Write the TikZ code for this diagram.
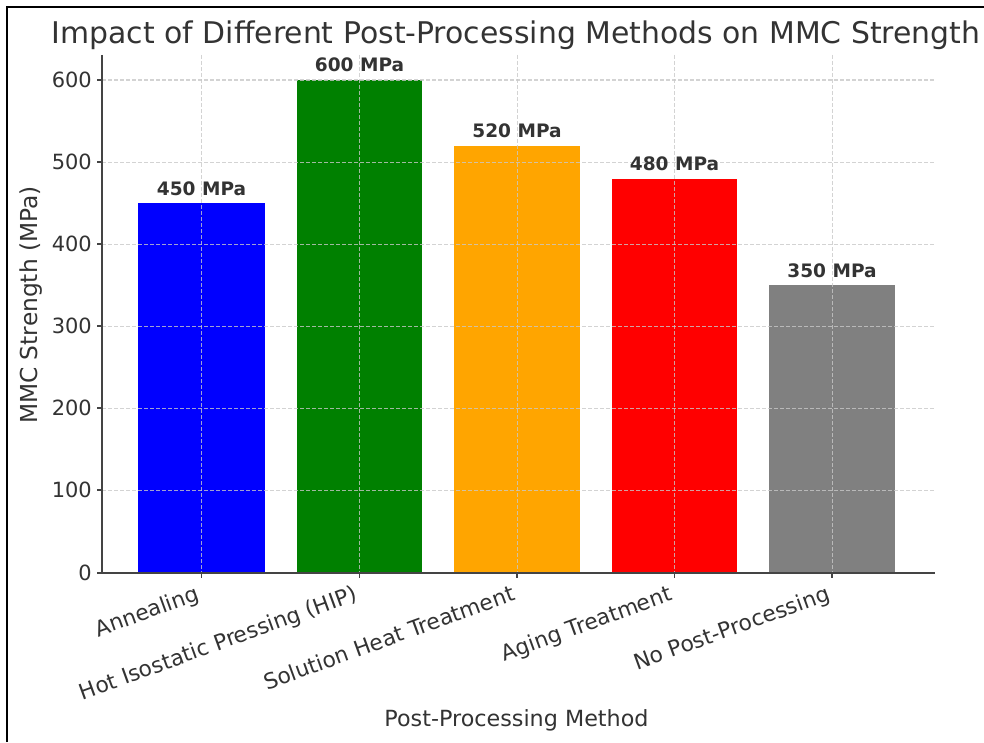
\documentclass[tikz,border=0pt]{standalone}
\usepackage{fontspec}
\setmainfont{DejaVu Sans}
\definecolor{txt}{HTML}{333333}
\definecolor{spine}{HTML}{444444}
\definecolor{gridc}{HTML}{C8C8C8}
\definecolor{cA}{RGB}{0,0,255}
\definecolor{cB}{RGB}{0,128,0}
\definecolor{cC}{RGB}{255,165,0}
\definecolor{cD}{RGB}{255,0,0}
\definecolor{cE}{RGB}{128,128,128}
\begin{document}
\begin{tikzpicture}[x=0.75pt,y=-0.75pt,
  ticklab/.style={font=\fontsize{15.7}{18}\selectfont,text=txt,inner sep=0pt},
  xticklab/.style={font=\fontsize{16.3}{19}\selectfont,text=txt,inner sep=0pt,rotate=20,anchor=north east},
  barlab/.style={font=\fontsize{13.9}{16}\selectfont\bfseries,text=txt,inner sep=0pt,anchor=base},
  axlab/.style={font=\fontsize{16.7}{19}\selectfont,text=txt,inner sep=0pt},
  gridline/.style={gridc,line width=0.75pt,dash pattern=on 3pt off 1.5pt,opacity=0.8},
  spineline/.style={spine,line width=1.2pt},
  tickline/.style={spine,line width=0.9pt}]
\useasboundingbox (0,0) rectangle (984,742);
\fill[white] (0,0) rectangle (984,742);
% frame
\draw[black,line width=1.5pt] (7,742) -- (7,7) -- (984,7);
% title
\node[font=\fontsize{22.4}{26}\selectfont,text=txt,inner sep=0pt,anchor=base] (title) at (516,44) {Impact of Different Post-Processing Methods on MMC Strength};
% bars: y(v) = 573 - 0.8217*v
\fill[cA] (138,573) rectangle (265,203.2);
\fill[cB] (297,573) rectangle (422,80);
\fill[cC] (454,573) rectangle (580,145.7);
\fill[cD] (612,573) rectangle (737,178.6);
\fill[cE] (769,573) rectangle (895,285.4);
% grid
\foreach \y in {490,408,326,244,162,80} \draw[gridline] (102,\y) -- (935,\y);
\foreach \x in {201.5,359.5,517,674.5,832} \draw[gridline] (\x,55) -- (\x,573);
% spines
\draw[spineline] (102,55) -- (102,573) -- (935,573);
% y ticks
\foreach \y/\v in {573/0,490/100,408/200,326/300,244/400,162/500,80/600} {
  \draw[tickline] (97,\y) -- (102,\y);
  \node[ticklab,anchor=east] (yt\v) at (92,\y) {\v};
}
% x ticks
\foreach \x in {201.5,359.5,517,674.5,832} \draw[tickline] (\x,573) -- (\x,578);
\node[xticklab] (xA) at (195,584) {Annealing};
\node[xticklab] (xB) at (353,584) {Hot Isostatic Pressing (HIP)};
\node[xticklab] (xC) at (510.5,584) {Solution Heat Treatment};
\node[xticklab] (xD) at (668,584) {Aging Treatment};
\node[xticklab] (xE) at (825.5,584) {No Post-Processing};
% bar labels
\node[barlab] (lA) at (201.5,195) {450 MPa};
\node[barlab] (lB) at (359.5,72) {600 MPa};
\node[barlab] (lC) at (517,137.5) {520 MPa};
\node[barlab] (lD) at (674.5,170.5) {480 MPa};
\node[barlab] (lE) at (832,277.5) {350 MPa};
% axis labels
\node[axlab] (xlab) at (516.5,720) {Post-Processing Method};
\node[axlab,rotate=90,font=\fontsize{17.5}{20}\selectfont] (ylab) at (31,305) {MMC Strength (MPa)};
\end{tikzpicture}
\end{document}
